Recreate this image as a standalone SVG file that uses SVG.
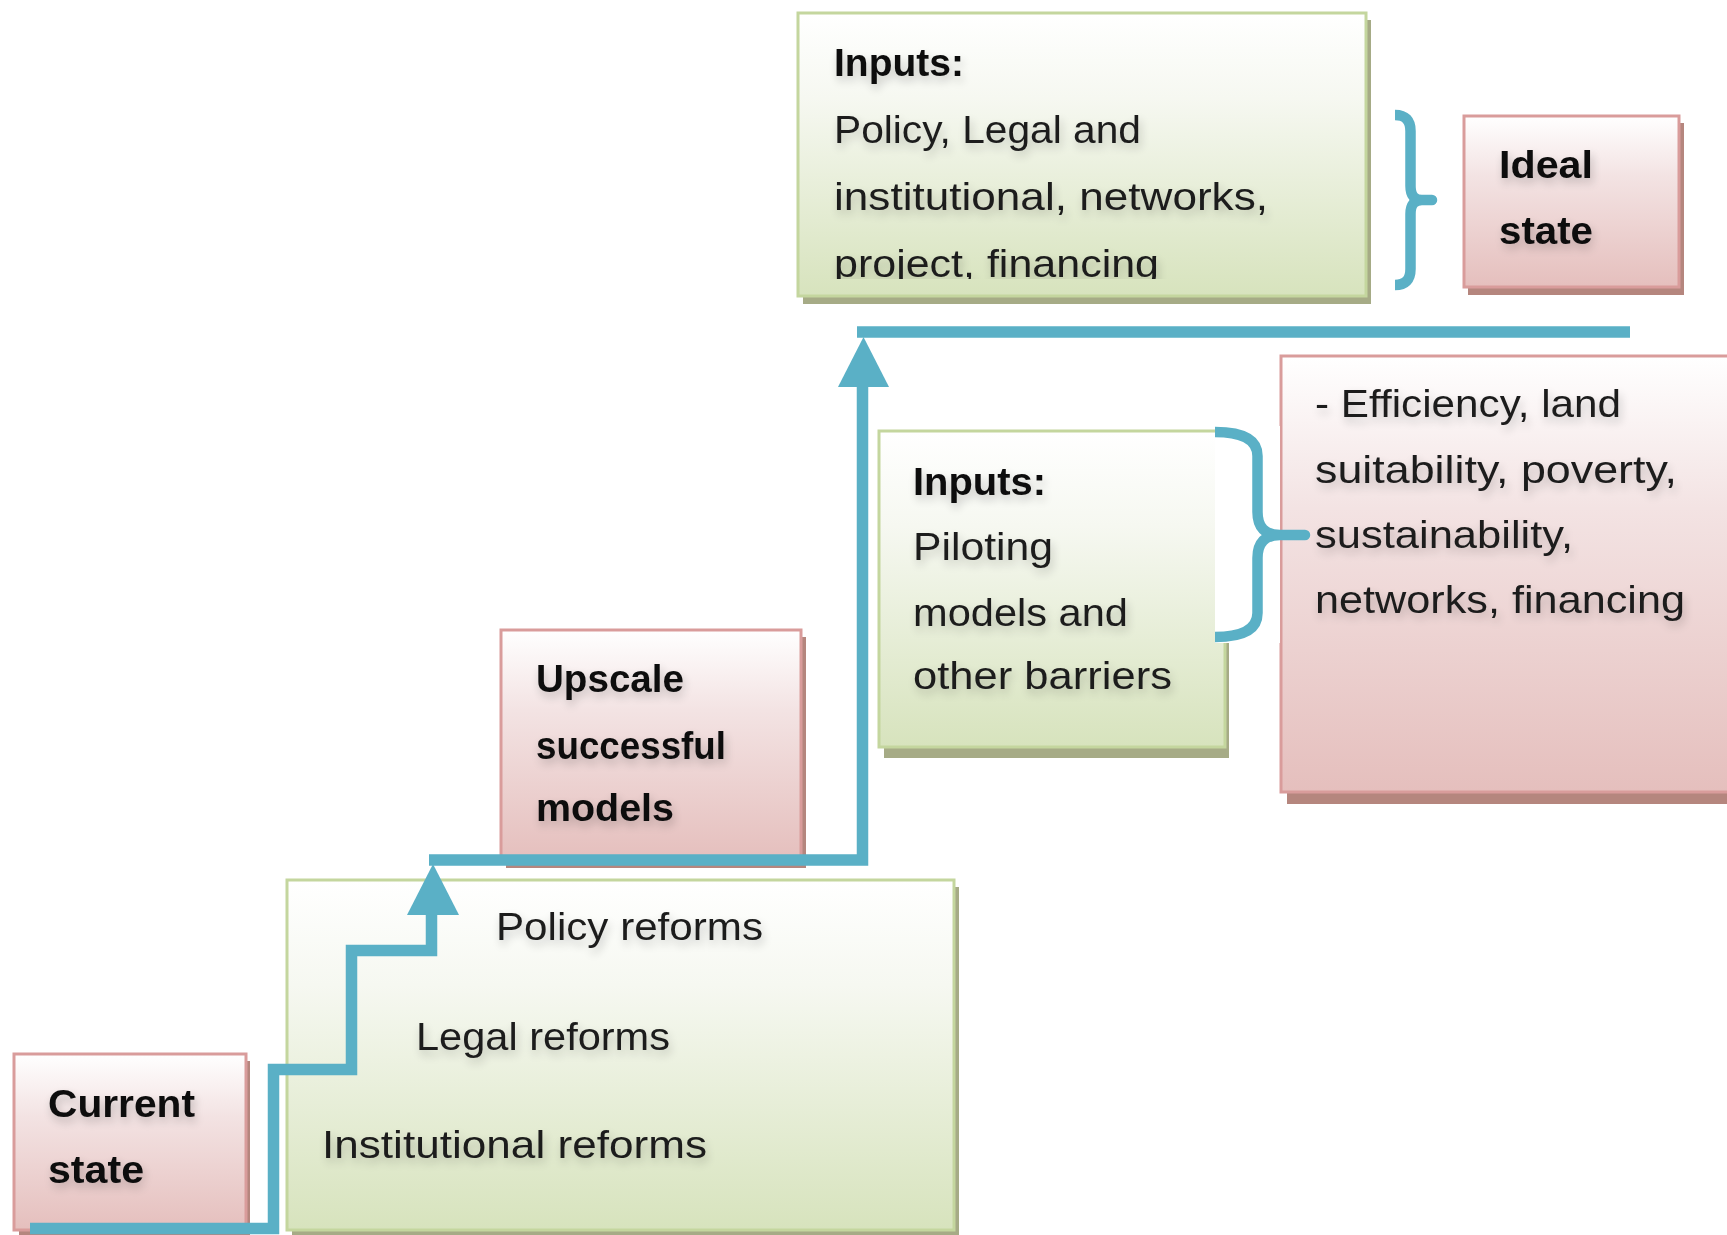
<svg xmlns="http://www.w3.org/2000/svg" width="1727" height="1235" viewBox="0 0 1727 1235">
  <style>
    .t { font-family: "Liberation Sans", Arial, sans-serif; font-size: 39px; fill: #1c1c1c; }
    .b { font-weight: bold; fill: #111; }
    .gbox { fill: url(#gG); stroke: #c4d69e; stroke-width: 3; }
    .pbox { fill: url(#gP); stroke: #d99c9b; stroke-width: 3; }
    .gsh { fill: #a6ab86; }
    .psh { fill: #b5867e; }
    .line { fill: none; stroke: #5ab0c6; stroke-width: 11.5; stroke-linejoin: miter; stroke-linecap: butt; }
    .brace { fill: none; stroke: #5ab0c6; stroke-width: 10.5; stroke-linejoin: round; }
    .arrow { fill: #5ab0c6; }
  </style>
  <defs>
    <linearGradient id="gG" x1="0" y1="0" x2="0" y2="1">
      <stop offset="0" stop-color="#ffffff"/>
      <stop offset="0.3" stop-color="#f6f8f1"/>
      <stop offset="1" stop-color="#d7e3bd"/>
    </linearGradient>
    <linearGradient id="gP" x1="0" y1="0" x2="0" y2="1">
      <stop offset="0" stop-color="#ffffff"/>
      <stop offset="0.35" stop-color="#f3e3e3"/>
      <stop offset="1" stop-color="#e5bfbd"/>
    </linearGradient>
    <filter id="ts" x="-20%" y="-60%" width="140%" height="220%">
      <feGaussianBlur in="SourceAlpha" stdDeviation="5"/>
      <feOffset dx="2" dy="5" result="o"/>
      <feComponentTransfer>
        <feFuncA type="linear" slope="0.22"/>
      </feComponentTransfer>
      <feMerge>
        <feMergeNode/>
        <feMergeNode in="SourceGraphic"/>
      </feMerge>
    </filter>
    <clipPath id="clipTop">
      <rect x="798" y="13" width="568" height="266"/>
    </clipPath>
  </defs>

  <rect width="1727" height="1235" fill="#ffffff"/>

  <!-- Top inputs box -->
  <g id="node-inputs-top">
    <rect class="gsh" x="803" y="20" width="568" height="284"/>
    <rect class="gbox" x="798" y="13" width="568" height="283"/>
    <g filter="url(#ts)" clip-path="url(#clipTop)">
      <text class="t b" x="834" y="76" textLength="130" lengthAdjust="spacingAndGlyphs">Inputs:</text>
      <text class="t" x="834" y="143" textLength="307" lengthAdjust="spacingAndGlyphs">Policy, Legal and</text>
      <text class="t" x="834" y="210" textLength="434" lengthAdjust="spacingAndGlyphs">institutional, networks,</text>
      <text class="t" x="834" y="277" textLength="325" lengthAdjust="spacingAndGlyphs">project, financing</text>
    </g>
  </g>

  <!-- Ideal state box -->
  <g id="node-ideal">
    <rect class="psh" x="1468" y="123" width="216" height="172"/>
    <rect class="pbox" x="1464" y="116" width="215" height="171"/>
    <g filter="url(#ts)">
      <text class="t b" x="1499" y="178" textLength="94" lengthAdjust="spacingAndGlyphs">Ideal</text>
      <text class="t b" x="1499" y="244" textLength="94" lengthAdjust="spacingAndGlyphs">state</text>
    </g>
  </g>

  <!-- Piloting inputs box -->
  <g id="node-inputs-piloting">
    <rect class="gsh" x="884" y="438" width="345" height="320"/>
    <rect class="gbox" x="879" y="431" width="346" height="316"/>
    <g filter="url(#ts)">
      <text class="t b" x="913" y="495" textLength="133" lengthAdjust="spacingAndGlyphs">Inputs:</text>
      <text class="t" x="913" y="560" textLength="140" lengthAdjust="spacingAndGlyphs">Piloting</text>
      <text class="t" x="913" y="626" textLength="215" lengthAdjust="spacingAndGlyphs">models and</text>
      <text class="t" x="913" y="689" textLength="259" lengthAdjust="spacingAndGlyphs">other barriers</text>
    </g>
  </g>

  <!-- Efficiency box -->
  <g id="node-efficiency">
    <rect class="psh" x="1287" y="362" width="460" height="442"/>
    <rect class="pbox" x="1281" y="356" width="460" height="436"/>
    <g filter="url(#ts)">
      <text class="t" x="1315" y="417" textLength="306" lengthAdjust="spacingAndGlyphs">- Efficiency, land</text>
      <text class="t" x="1315" y="483" textLength="362" lengthAdjust="spacingAndGlyphs">suitability, poverty,</text>
      <text class="t" x="1315" y="548" textLength="258" lengthAdjust="spacingAndGlyphs">sustainability,</text>
      <text class="t" x="1315" y="613" textLength="370" lengthAdjust="spacingAndGlyphs">networks, financing</text>
    </g>
  </g>

  <!-- Upscale box -->
  <g id="node-upscale">
    <rect class="psh" x="506" y="637" width="300" height="231"/>
    <rect class="pbox" x="501" y="630" width="300" height="230"/>
    <g filter="url(#ts)">
      <text class="t b" x="536" y="692" textLength="148" lengthAdjust="spacingAndGlyphs">Upscale</text>
      <text class="t b" x="536" y="759" textLength="190" lengthAdjust="spacingAndGlyphs">successful</text>
      <text class="t b" x="536" y="821" textLength="138" lengthAdjust="spacingAndGlyphs">models</text>
    </g>
  </g>

  <!-- Reforms box -->
  <g id="node-reforms">
    <rect class="gsh" x="292" y="887" width="667" height="349"/>
    <rect class="gbox" x="287" y="880" width="667" height="350"/>
    <g filter="url(#ts)">
      <text class="t" x="496" y="940" textLength="267" lengthAdjust="spacingAndGlyphs">Policy reforms</text>
      <text class="t" x="416" y="1050" textLength="254" lengthAdjust="spacingAndGlyphs">Legal reforms</text>
      <text class="t" x="322" y="1158" textLength="385" lengthAdjust="spacingAndGlyphs">Institutional reforms</text>
    </g>
  </g>

  <!-- Current state box -->
  <g id="node-current">
    <rect class="psh" x="19" y="1061" width="231" height="176"/>
    <rect class="pbox" x="14" y="1054" width="232" height="176"/>
    <g filter="url(#ts)">
      <text class="t b" x="48" y="1117" textLength="147" lengthAdjust="spacingAndGlyphs">Current</text>
      <text class="t b" x="48" y="1183" textLength="96" lengthAdjust="spacingAndGlyphs">state</text>
    </g>
  </g>

  <!-- Connectors -->
  <g id="connectors">
    <path class="line" d="M30,1228.5 H273.5 V1069.5 H351.5 V950.5 H431.5 V912"/>
    <polygon class="arrow" points="407,915 459,915 433,864"/>
    <path class="line" d="M429,860 H862.5 V384"/>
    <polygon class="arrow" points="838,387 889,387 863.5,337"/>
    <path class="line" d="M857,332 H1630"/>
  </g>

  <!-- Braces -->
  <g id="brace-top">
    <path class="brace" d="M1395,115 Q1410.5,115 1410.5,131 V186 Q1410.5,200 1422,200 L1432,200 L1422,200 Q1410.5,200 1410.5,214 V269 Q1410.5,285 1395,285"/>
  </g>
  <g id="brace-piloting">
    <rect x="1215" y="426" width="65" height="217" fill="#ffffff"/>
    <path class="brace" d="M1215,432 Q1257.5,432 1257.5,456 V512 Q1257.5,535 1280,535 L1305,535 L1280,535 Q1257.5,535 1257.5,558 V613 Q1257.5,637 1215,637"/>
  </g>
</svg>
